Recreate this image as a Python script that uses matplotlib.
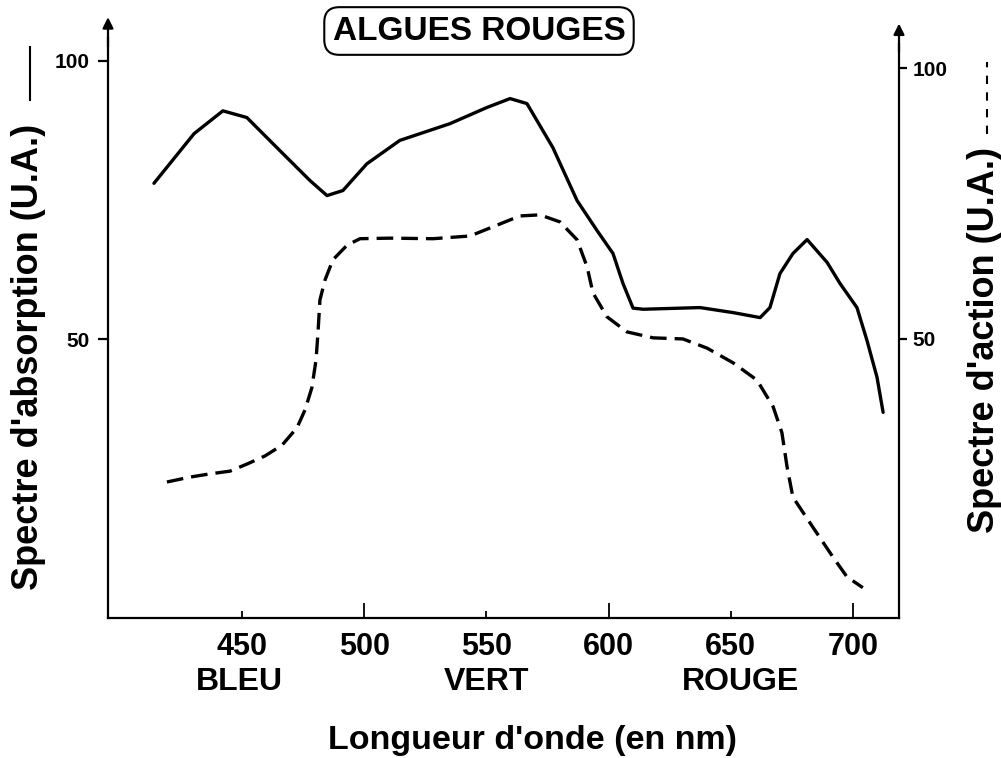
import matplotlib
matplotlib.use("Agg")
import matplotlib.pyplot as plt
from matplotlib.lines import Line2D

plt.rcParams['font.family'] = ['Liberation Sans', 'DejaVu Sans']
plt.rcParams['font.weight'] = 'bold'

# ---- data ----
abs_nm = [414.0, 430.4, 442.2, 452.0, 464.3, 477.8, 484.8, 491.3, 501.1, 514.6,
          535.1, 550.2, 559.7, 566.6, 577.2, 587.1, 595.3, 601.8, 605.9, 610.0,
          614.1, 637.4, 650.9, 662.0, 666.0, 670.1, 675.4, 681.2, 689.4, 694.7,
          701.6, 705.7, 709.8, 712.3]
abs_val = [78.0, 86.9, 91.0, 89.8, 84.4, 78.5, 75.8, 76.7, 81.5, 85.7,
           88.7, 91.6, 93.2, 92.3, 84.4, 74.9, 69.5, 65.4, 60.0, 55.6,
           55.4, 55.7, 54.8, 53.9, 55.7, 61.8, 65.4, 67.9, 63.8, 60.0,
           55.7, 49.8, 43.2, 36.9]

act_nm = [419.3, 428.7, 436.9, 445.1, 452.0, 459.4, 466.4, 472.5, 475.8, 478.6,
          480.3, 481.1, 481.9, 484.0, 487.2, 493.0, 498.3, 510.6, 528.2, 543.3,
          552.7, 563.7, 571.9, 580.1, 587.1, 591.2, 593.6, 599.3, 607.5, 618.2,
          630.4, 640.3, 650.9, 660.7, 667.3, 670.9, 673.0, 675.4, 683.5, 691.7,
          697.5, 704.0]
act_val = [23.6, 24.5, 25.1, 25.6, 26.9, 28.4, 30.4, 33.6, 36.9, 41.0,
           46.1, 51.1, 57.2, 60.9, 64.6, 67.3, 68.5, 68.6, 68.5, 69.0,
           70.7, 72.7, 72.9, 71.6, 68.3, 63.3, 58.5, 54.1, 51.3, 50.2,
           50.0, 48.3, 45.6, 42.4, 37.5, 32.7, 26.4, 20.8, 15.3, 9.8,
           6.1, 4.1]

x_major = [500, 600, 700]
x_minor = [450, 550, 650]
y_ticks = [50, 100]
color_names = ["BLEU", "VERT", "ROUGE"]
color_pos = [449, 550, 654]

W, H = 1001, 758
fig = plt.figure(figsize=(W / 100, H / 100), dpi=100)
fig.patch.set_facecolor('white')

def fx(px):
    return px / W

def fy(py):
    return 1 - py / H

ax = fig.add_axes([fx(108), fy(618), fx(899) - fx(108), fy(20) - fy(618)])
ax2 = ax.twinx()

ax.set_xlim(395.2, 718.8)
ax.set_ylim(0, 107.3)
ax2.set_ylim(-1.5, 108.86)

ax.plot(abs_nm, abs_val, color='black', lw=2.4, solid_joinstyle='round',
        solid_capstyle='round')
ax2.plot(act_nm, act_val, color='black', lw=2.4, dashes=(5.0, 2.4))

for s in ['top']:
    ax.spines[s].set_visible(False)
    ax2.spines[s].set_visible(False)
ax2.spines['left'].set_visible(False)
ax2.spines['bottom'].set_visible(False)
ax.spines['right'].set_visible(False)
for sp in [ax.spines['left'], ax.spines['bottom'], ax2.spines['right']]:
    sp.set_linewidth(1.6)
ax.spines['left'].set_bounds(0, 104)
ax2.spines['right'].set_bounds(-1.5, 104.5)

ax.annotate('', xy=(395.2, 107.8), xytext=(395.2, 102.5),
            arrowprops=dict(arrowstyle='-|>', lw=1.6, color='black',
                            mutation_scale=16, shrinkA=0, shrinkB=0),
            annotation_clip=False)
ax2.annotate('', xy=(718.8, 108.2), xytext=(718.8, 103),
             arrowprops=dict(arrowstyle='-|>', lw=1.6, color='black',
                             mutation_scale=16, shrinkA=0, shrinkB=0),
             annotation_clip=False)

# x ticks
ax.set_xticks(x_major)
ax.set_xticks(x_minor, minor=True)
ax.set_xticklabels([str(v) for v in x_major])
ax.set_xticklabels([str(v) for v in x_minor], minor=True)
ax.tick_params(axis='x', which='major', direction='in', length=11, width=1.3,
               labelsize=22, pad=10)
ax.tick_params(axis='x', which='minor', direction='in', length=5, width=1.3,
               labelsize=22, pad=10)

# y ticks
ax.set_yticks(y_ticks)
ax.set_yticklabels([str(v) for v in y_ticks])
ax.tick_params(axis='y', direction='out', length=7, width=1.6,
               labelsize=15, pad=6)
ax2.set_yticks(y_ticks)
ax2.set_yticklabels([str(v) for v in y_ticks])
ax2.tick_params(axis='y', direction='out', length=6, width=1.6,
                labelsize=15, pad=4)

# colour names under the axis
for name, pos in zip(color_names, color_pos):
    ax.text(pos, -0.107, name, transform=ax.get_xaxis_transform(),
            ha='center', va='center', fontsize=23, fontweight='bold')

fig.text(fx(533), fy(740), "Longueur d'onde (en nm)", ha='center', va='center',
         fontsize=24.5, fontweight='bold')

fig.text(fx(29), fy(357), "Spectre d'absorption (U.A.)", rotation=90,
         ha='center', va='center', fontsize=26, fontweight='bold')
fig.add_artist(Line2D([fx(30), fx(30)], [fy(100), fy(47)], color='black',
                      lw=1.5, transform=fig.transFigure))

fig.text(fx(984), fy(340), "Spectre d'action (U.A.)", rotation=90,
         ha='center', va='center', fontsize=26, fontweight='bold')
fig.add_artist(Line2D([fx(987), fx(987)], [fy(134), fy(62)], color='black',
                      lw=1.5, dashes=(4, 4), transform=fig.transFigure))

fig.text(fx(479), fy(31), "ALGUES ROUGES", ha='center', va='center',
         fontsize=24, fontweight='bold',
         bbox=dict(boxstyle='round,pad=0.25,rounding_size=0.45', fc='white',
                   ec='black', lw=1.5))

fig.savefig('out.png', dpi=100, facecolor='white')
